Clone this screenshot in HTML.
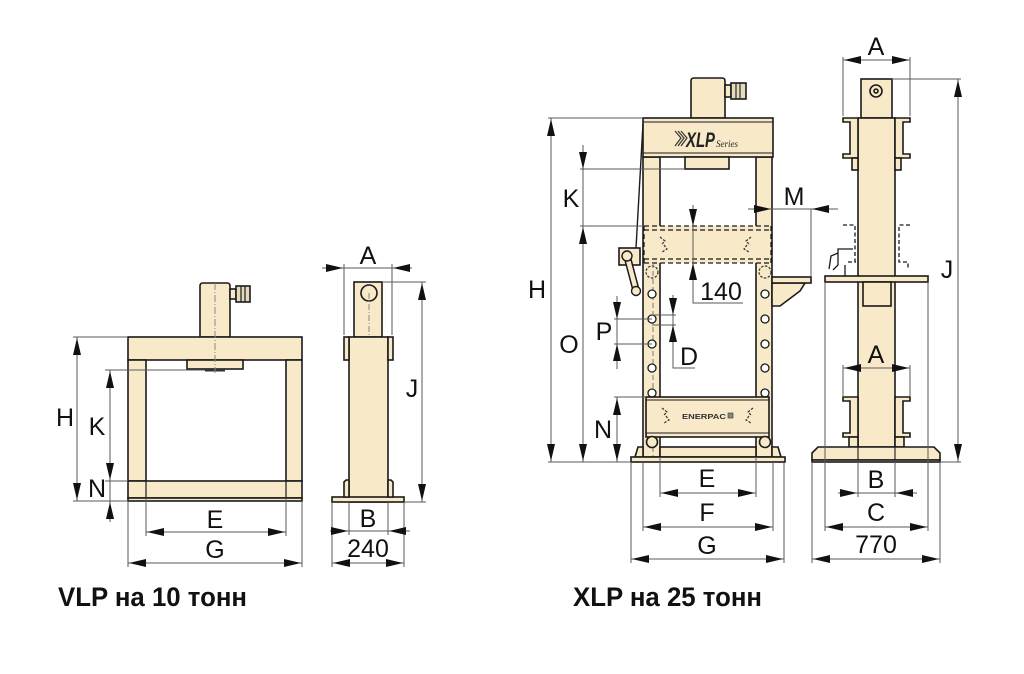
<!DOCTYPE html>
<html><head><meta charset="utf-8"><style>
html,body{margin:0;padding:0;background:#fff;}
svg{display:block;}
text{font-family:"Liberation Sans",sans-serif;fill:#111;}
</style></head><body>
<svg width="1024" height="674" viewBox="0 0 1024 674" xmlns="http://www.w3.org/2000/svg">
<defs>
<path id="au" d="M0,0 L-4,17 L4,17 Z" fill="#111"/>
<path id="ad" d="M0,0 L-4,-17 L4,-17 Z" fill="#111"/>
<path id="al" d="M0,0 L17,-4 L17,4 Z" fill="#111"/>
<path id="ar" d="M0,0 L-17,-4 L-17,4 Z" fill="#111"/>
</defs>
<rect width="1024" height="674" fill="#fff"/>

<!-- ================= VLP FRONT ================= -->
<g fill="#f8e9c9" stroke="#1a1a1a" stroke-width="1.6">
<path d="M200,337 V286 Q200,283 203,283 H227 Q230,283 230,286 V337 Z"/>
<rect x="230" y="289" width="6" height="10"/>
<rect x="236" y="286" width="14" height="16" fill="#e6d9bc"/>
<rect x="128" y="337" width="174" height="23"/>
<rect x="128" y="360" width="18" height="121"/>
<rect x="286" y="360" width="16" height="121"/>
<rect x="187" y="360" width="56" height="9"/>
<rect x="128" y="481" width="174" height="17"/>
<rect x="128" y="498" width="174" height="3"/>
</g>
<g stroke="#1a1a1a" stroke-width="1.2">
<line x1="146" y1="481" x2="146" y2="498"/>
<line x1="286" y1="481" x2="286" y2="498"/>
<line x1="241" y1="286" x2="241" y2="302"/>
<line x1="245" y1="286" x2="245" y2="302"/>
</g>
<rect x="205" y="369" width="20" height="2.5" fill="#333"/>
<line x1="215" y1="283" x2="215" y2="373" stroke="#888" stroke-width="1" stroke-dasharray="7 2 1 2"/>

<!-- VLP front dims -->
<g stroke="#5a5a5a" stroke-width="1" fill="none">
<line x1="77" y1="337" x2="77" y2="501"/>
<line x1="73" y1="337" x2="128" y2="337"/>
<line x1="73" y1="501" x2="128" y2="501"/>
<line x1="110" y1="370" x2="110" y2="522"/>
<line x1="105" y1="370" x2="205" y2="370"/>
<line x1="105" y1="481" x2="128" y2="481"/>
<line x1="146" y1="498" x2="146" y2="536"/>
<line x1="286" y1="498" x2="286" y2="536"/>
<line x1="146" y1="532" x2="286" y2="532"/>
<line x1="128" y1="501" x2="128" y2="567"/>
<line x1="302" y1="501" x2="302" y2="567"/>
<line x1="128" y1="563" x2="302" y2="563"/>
</g>
<use href="#au" x="77" y="338"/>
<use href="#ad" x="77" y="500"/>
<use href="#au" x="110" y="371"/>
<use href="#ad" x="110" y="480"/>
<use href="#au" x="110" y="502"/>
<use href="#al" x="147" y="532"/>
<use href="#ar" x="285" y="532"/>
<use href="#al" x="129" y="563"/>
<use href="#ar" x="301" y="563"/>
<g font-size="25" text-anchor="middle">
<text x="65" y="426">H</text>
<text x="97" y="435">K</text>
<text x="97" y="497">N</text>
<text x="215" y="528">E</text>
<text x="215" y="558">G</text>
</g>

<!-- ================= VLP SIDE ================= -->
<g fill="#f8e9c9" stroke="#1a1a1a" stroke-width="1.6">
<rect x="354" y="282" width="28" height="55"/>
<rect x="349" y="337" width="39" height="165"/>
<rect x="344" y="337" width="5" height="23"/>
<rect x="388" y="337" width="5" height="23"/>
<rect x="332" y="497" width="72" height="5"/>
<path d="M344,497 V482 L346,480 H349 V497 Z"/>
<path d="M393,497 V482 L391,480 H388 V497 Z"/>
<circle cx="369" cy="293" r="8"/>
</g>
<line x1="369" y1="293" x2="369" y2="337" stroke="#888" stroke-width="1" stroke-dasharray="6 2 1 2"/>
<g stroke="#5a5a5a" stroke-width="1" fill="none">
<line x1="322" y1="268" x2="412" y2="268"/>
<line x1="344" y1="264" x2="344" y2="335"/>
<line x1="392" y1="264" x2="392" y2="335"/>
<line x1="422" y1="282" x2="422" y2="502"/>
<line x1="382" y1="282" x2="426" y2="282"/>
<line x1="404" y1="502" x2="426" y2="502"/>
<line x1="330" y1="531" x2="410" y2="531"/>
<line x1="349" y1="502" x2="349" y2="535"/>
<line x1="388" y1="502" x2="388" y2="535"/>
<line x1="332" y1="502" x2="332" y2="567"/>
<line x1="404" y1="502" x2="404" y2="567"/>
<line x1="332" y1="563" x2="404" y2="563"/>
</g>
<use href="#ar" x="343" y="268"/>
<use href="#al" x="393" y="268"/>
<use href="#au" x="422" y="283"/>
<use href="#ad" x="422" y="501"/>
<use href="#ar" x="348" y="531"/>
<use href="#al" x="389" y="531"/>
<use href="#al" x="333" y="563"/>
<use href="#ar" x="403" y="563"/>
<g font-size="25" text-anchor="middle">
<text x="368" y="264">A</text>
<text x="412" y="397">J</text>
<text x="368" y="527">B</text>
<text x="368" y="557">240</text>
</g>

<text x="58" y="606" font-size="27" font-weight="bold" textLength="189" lengthAdjust="spacingAndGlyphs">VLP на 10 тонн</text>

<!-- ================= XLP FRONT ================= -->
<g fill="#f8e9c9" stroke="#1a1a1a" stroke-width="1.6">
<path d="M691,118 V81 Q691,78 694,78 H722 Q725,78 725,81 V118 Z"/>
<rect x="725" y="85" width="6" height="12"/>
<rect x="731" y="83" width="15" height="16" fill="#e6d9bc"/>
<rect x="643" y="157" width="17" height="300"/>
<rect x="756" y="157" width="16" height="300"/>
<rect x="643" y="118" width="130" height="39"/>
<rect x="685" y="157" width="44" height="12"/>
</g>
<g stroke="#1a1a1a" stroke-width="1.1">
<line x1="643" y1="122" x2="773" y2="122"/>
<line x1="643" y1="153" x2="773" y2="153"/>
<line x1="736" y1="83" x2="736" y2="99"/>
<line x1="740" y1="83" x2="740" y2="99"/>
</g>
<!-- logo -->
<g stroke="#333" stroke-width="1.2" fill="none">
<path d="M675,131 L681,138 L675,146"/>
<path d="M678,131 L684,138 L678,146"/>
<path d="M681,131 L687,138 L681,146"/>
</g>
<text x="686" y="147" font-size="21" font-weight="bold" font-style="italic" textLength="29" lengthAdjust="spacingAndGlyphs" style="fill:#222">XLP</text>
<text x="716" y="147" font-size="9" font-style="italic" font-family="Liberation Serif, serif" style="font-family:'Liberation Serif',serif;fill:#222">Series</text>

<!-- hose -->
<line x1="643" y1="124" x2="636" y2="248" stroke="#1a1a1a" stroke-width="1.4"/>

<!-- dashed upper bed -->
<rect x="644" y="226" width="127" height="37" fill="#f8e9c9" stroke="none"/>
<g stroke="#1a1a1a" stroke-width="1.3" fill="none" stroke-dasharray="5 3">
<line x1="644" y1="226" x2="771" y2="226"/>
<line x1="644" y1="230" x2="771" y2="230"/>
<line x1="644" y1="259" x2="771" y2="259"/>
<line x1="644" y1="263" x2="771" y2="263"/>
<line x1="644" y1="226" x2="644" y2="263"/>
<line x1="771" y1="226" x2="771" y2="263"/>
</g>
<g stroke="#333" stroke-width="1.2" fill="none" stroke-dasharray="2.5 1.5">
<path d="M660,237 L665,241 L661,245 M664,245 L667,249 L662,252"/>
<path d="M751,237 L746,241 L750,245 M747,245 L744,249 L749,252"/>
<circle cx="652" cy="272" r="6"/>
<circle cx="765" cy="272" r="6"/>
</g>
<line x1="653" y1="263" x2="653" y2="458" stroke="#777" stroke-width="1" stroke-dasharray="5 3"/>

<!-- handle -->
<g fill="#f8e9c9" stroke="#1a1a1a" stroke-width="1.6">
<rect x="619" y="248" width="21" height="17"/>
</g>
<line x1="627" y1="256" x2="636" y2="290" stroke="#1a1a1a" stroke-width="7.5" stroke-linecap="round"/>
<line x1="627" y1="256" x2="636" y2="290" stroke="#f8e9c9" stroke-width="4.5" stroke-linecap="round"/>
<circle cx="627" cy="256" r="5" fill="#f8e9c9" stroke="#1a1a1a" stroke-width="1.4"/>
<circle cx="636" cy="291" r="4.5" fill="#f8e9c9" stroke="#1a1a1a" stroke-width="1.4"/>

<!-- holes -->
<g fill="#fff" stroke="#1a1a1a" stroke-width="1.3">
<circle cx="652" cy="294" r="4"/><circle cx="652" cy="319" r="4"/><circle cx="652" cy="344" r="4"/><circle cx="652" cy="368" r="4"/><circle cx="652" cy="393" r="4"/>
<circle cx="765" cy="294" r="4"/><circle cx="765" cy="319" r="4"/><circle cx="765" cy="344" r="4"/><circle cx="765" cy="368" r="4"/><circle cx="765" cy="393" r="4"/>
</g>

<!-- lower bed -->
<g fill="#f8e9c9" stroke="#1a1a1a" stroke-width="1.6">
<rect x="646" y="397" width="123" height="40"/>
</g>
<g stroke="#1a1a1a" stroke-width="1.1">
<line x1="646" y1="400" x2="769" y2="400"/>
<line x1="646" y1="433" x2="769" y2="433"/>
</g>
<g stroke="#333" stroke-width="1.2" fill="none" stroke-dasharray="2.5 1.5">
<path d="M662,408 L667,412 L663,416 M666,416 L669,420 L664,423"/>
<path d="M753,408 L748,412 L752,416 M749,416 L746,420 L751,423"/>
</g>
<text x="682" y="419" font-size="7.5" font-weight="bold" textLength="44" lengthAdjust="spacingAndGlyphs" style="fill:#333">ENERPAC</text>
<rect x="728" y="413" width="5" height="5" fill="#888" stroke="#333" stroke-width="0.6"/>

<!-- base -->
<g fill="#f8e9c9" stroke="#1a1a1a" stroke-width="1.6">
<rect x="660" y="447" width="96" height="10"/>
<path d="M635,457 L638,447 H643 V457 Z"/>
<path d="M781,457 L778,447 H772 V457 Z"/>
<rect x="631" y="457" width="154" height="5"/>
<circle cx="652" cy="442" r="5.5"/>
<circle cx="765" cy="442" r="5.5"/>
</g>

<!-- tray right -->
<g fill="#f8e9c9" stroke="#1a1a1a" stroke-width="1.6">
<path d="M772,283 H805 L800,291 L780,306 H772 Z"/>
<rect x="772" y="277" width="39" height="6"/>
</g>

<!-- XLP front dims -->
<g stroke="#5a5a5a" stroke-width="1" fill="none">
<line x1="551" y1="118" x2="551" y2="462"/>
<line x1="548" y1="118" x2="643" y2="118"/>
<line x1="548" y1="462" x2="631" y2="462"/>
<line x1="583" y1="145" x2="583" y2="462"/>
<line x1="580" y1="169" x2="685" y2="169"/>
<line x1="580" y1="226" x2="644" y2="226"/>
<line x1="617" y1="296" x2="617" y2="369"/>
<line x1="614" y1="319" x2="652" y2="319"/>
<line x1="614" y1="344" x2="652" y2="344"/>
<line x1="652" y1="315" x2="676" y2="315"/>
<line x1="652" y1="325" x2="676" y2="325"/>
<path d="M673,295 V368 H695"/>
<line x1="617" y1="397" x2="617" y2="462"/>
<line x1="614" y1="397" x2="646" y2="397"/>
<path d="M693,205 V303 H743"/>
<line x1="748" y1="209" x2="838" y2="209"/>
<line x1="811" y1="209" x2="811" y2="277"/>
<line x1="660" y1="457" x2="660" y2="497"/>
<line x1="756" y1="457" x2="756" y2="497"/>
<line x1="660" y1="493" x2="756" y2="493"/>
<line x1="643" y1="462" x2="643" y2="531"/>
<line x1="773" y1="462" x2="773" y2="531"/>
<line x1="643" y1="527" x2="773" y2="527"/>
<line x1="631" y1="462" x2="631" y2="563"/>
<line x1="784" y1="462" x2="784" y2="563"/>
<line x1="631" y1="559" x2="784" y2="559"/>
</g>
<use href="#au" x="551" y="119"/>
<use href="#ad" x="551" y="461"/>
<use href="#ad" x="583" y="169"/>
<use href="#au" x="583" y="227"/>
<use href="#ad" x="583" y="461"/>
<use href="#ad" x="617" y="319"/>
<use href="#au" x="617" y="344"/>
<use href="#ad" x="673" y="315"/>
<use href="#au" x="673" y="325"/>
<use href="#au" x="617" y="398"/>
<use href="#ad" x="617" y="461"/>
<use href="#ad" x="693" y="226"/>
<use href="#au" x="693" y="263"/>
<use href="#ar" x="771" y="209"/>
<use href="#al" x="812" y="209"/>
<use href="#al" x="661" y="493"/>
<use href="#ar" x="755" y="493"/>
<use href="#al" x="644" y="527"/>
<use href="#ar" x="772" y="527"/>
<use href="#al" x="632" y="559"/>
<use href="#ar" x="783" y="559"/>
<g font-size="25" text-anchor="middle">
<text x="537" y="298">H</text>
<text x="571" y="207">K</text>
<text x="794" y="205">M</text>
<text x="721" y="300">140</text>
<text x="569" y="353">O</text>
<text x="604" y="340">P</text>
<text x="689" y="365">D</text>
<text x="603" y="438">N</text>
<text x="707" y="487">E</text>
<text x="707" y="521">F</text>
<text x="707" y="554">G</text>
</g>

<!-- ================= XLP SIDE ================= -->
<g fill="#f8e9c9" stroke="#1a1a1a" stroke-width="1.6">
<rect x="861" y="79" width="31" height="39"/>
<rect x="858" y="118" width="37" height="329"/>
<path d="M843,118 H858 V158 H843 V154 H850 V122 H843 Z"/>
<path d="M910,118 H895 V158 H910 V154 H903 V122 H910 Z"/>
<rect x="852" y="158" width="6" height="12"/>
<rect x="895" y="158" width="6" height="12"/>
<rect x="825" y="276" width="103" height="6"/>
<rect x="863" y="282" width="28" height="24"/>
<path d="M843,397 H858 V437 H843 V433 H850 V401 H843 Z"/>
<path d="M910,397 H895 V437 H910 V433 H903 V401 H910 Z"/>
<rect x="849" y="437" width="9" height="10"/>
<rect x="895" y="437" width="9" height="10"/>
<path d="M818,447 H934 L940,453 V460 H812 V453 Z"/>
<rect x="812" y="460" width="128" height="2"/>
<circle cx="876" cy="91" r="6"/>
<circle cx="876" cy="91" r="2"/>
</g>
<g stroke="#1a1a1a" stroke-width="1.3" fill="none" stroke-dasharray="4 2.5">
<path d="M843,225 H855 V262 H858"/>
<path d="M910,225 H899 V262 H908 V270"/>
<path d="M848,262 H856"/>
</g>
<g stroke="#1a1a1a" stroke-width="1.3" fill="none">
<path d="M853,249 H838 V265 L833,270"/>
<path d="M838,253 L831,256 L829,269"/>
<line x1="845" y1="265" x2="845" y2="276"/>
</g>

<!-- XLP side dims -->
<g stroke="#5a5a5a" stroke-width="1" fill="none">
<line x1="843" y1="60" x2="910" y2="60"/>
<line x1="843" y1="57" x2="843" y2="116"/>
<line x1="910" y1="57" x2="910" y2="116"/>
<line x1="958" y1="79" x2="958" y2="462"/>
<line x1="892" y1="79" x2="961" y2="79"/>
<line x1="940" y1="462" x2="961" y2="462"/>
<line x1="843" y1="368" x2="910" y2="368"/>
<line x1="843" y1="365" x2="843" y2="397"/>
<line x1="910" y1="365" x2="910" y2="397"/>
<line x1="858" y1="462" x2="858" y2="497"/>
<line x1="895" y1="462" x2="895" y2="497"/>
<line x1="838" y1="493" x2="917" y2="493"/>
<line x1="825" y1="282" x2="825" y2="531"/>
<line x1="928" y1="282" x2="928" y2="531"/>
<line x1="825" y1="527" x2="928" y2="527"/>
<line x1="812" y1="462" x2="812" y2="563"/>
<line x1="940" y1="462" x2="940" y2="563"/>
<line x1="812" y1="559" x2="940" y2="559"/>
</g>
<g stroke="#1a1a1a" stroke-width="1.1">
<line x1="858" y1="447" x2="858" y2="460"/>
<line x1="895" y1="447" x2="895" y2="460"/>
</g>
<use href="#al" x="844" y="60"/>
<use href="#ar" x="909" y="60"/>
<use href="#au" x="958" y="80"/>
<use href="#ad" x="958" y="461"/>
<use href="#al" x="844" y="368"/>
<use href="#ar" x="909" y="368"/>
<use href="#ar" x="857" y="493"/>
<use href="#al" x="896" y="493"/>
<use href="#al" x="826" y="527"/>
<use href="#ar" x="927" y="527"/>
<use href="#al" x="813" y="559"/>
<use href="#ar" x="939" y="559"/>
<g font-size="25" text-anchor="middle">
<text x="876" y="55">A</text>
<text x="947" y="278">J</text>
<text x="876" y="363">A</text>
<text x="876" y="488">B</text>
<text x="876" y="521">C</text>
<text x="876" y="553">770</text>
</g>

<text x="573" y="606" font-size="27" font-weight="bold" textLength="189" lengthAdjust="spacingAndGlyphs">XLP на 25 тонн</text>
</svg>
</body></html>
